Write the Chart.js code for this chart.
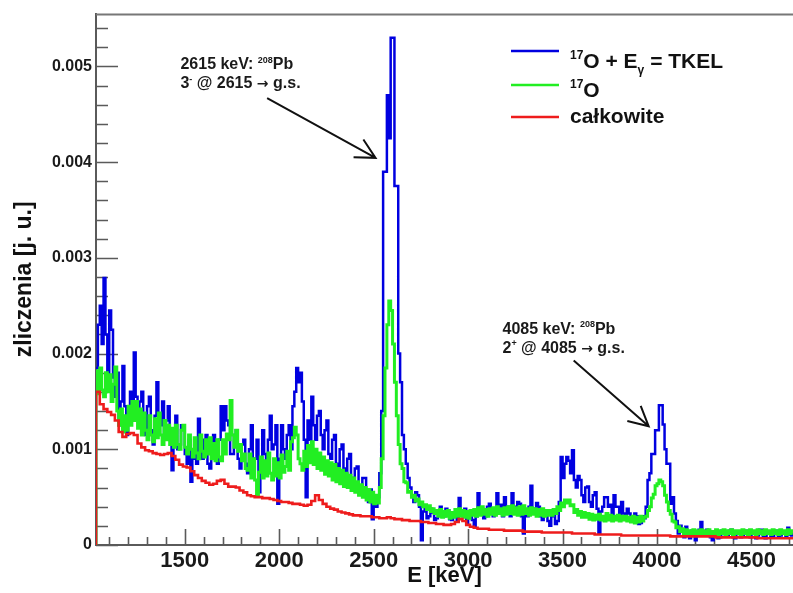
<!DOCTYPE html>
<html>
<head>
<meta charset="utf-8">
<script src="https://cdn.jsdelivr.net/npm/chart.js@4.4.0/dist/chart.umd.min.js"></script>
<style>
  html, body { margin: 0; padding: 0; background: #ffffff; }
  canvas { display: block; }
</style>
</head>
<body>
<canvas id="spectrum" width="793" height="593"></canvas>
<script>
// Histogram binning (keV)
const binStart = 1030;
const coarseBinWidth = 20;
const fineBinWidth = 10;

// 17O + E_gamma = TKEL, 10 keV bins starting at 1030 keV
const tkelCounts = [
  0.00185, 0.00230, 0.00250, 0.00210, 0.00279, 0.00220, 0.00180, 0.00245, 0.00225, 0.00175,
  0.00155, 0.00180, 0.00125, 0.00150, 0.00187, 0.00145, 0.00115, 0.00135, 0.00160, 0.00130,
  0.00201, 0.00155, 0.00130, 0.00150, 0.00160, 0.00125, 0.00115, 0.00145, 0.00155, 0.00120,
  0.00105, 0.00135, 0.00170, 0.00130, 0.00125, 0.00150, 0.00110, 0.00130, 0.00145, 0.00120,
  0.00078, 0.00110, 0.00135, 0.00100, 0.00105, 0.00125, 0.00125, 0.00095, 0.00085, 0.00110,
  0.00066, 0.00090, 0.00105, 0.00085, 0.00132, 0.00100, 0.00090, 0.00110, 0.00115, 0.00085,
  0.00080, 0.00105, 0.00115, 0.00090, 0.00085, 0.00110, 0.00145, 0.00120, 0.00145, 0.00130,
  0.00125, 0.00095, 0.00095, 0.00115, 0.00120, 0.00090, 0.00080, 0.00105, 0.00110, 0.00085,
  0.00075, 0.00100, 0.00125, 0.00090, 0.00090, 0.00110, 0.00055, 0.00085, 0.00120, 0.00095,
  0.00085, 0.00110, 0.00135, 0.00100, 0.00105, 0.00125, 0.00043, 0.00090, 0.00125, 0.00100,
  0.00090, 0.00115, 0.00125, 0.00100, 0.00145, 0.00160, 0.00185, 0.00170, 0.00180, 0.00150,
  0.00110, 0.00050, 0.00130, 0.00110, 0.00155, 0.00125, 0.00110, 0.00135, 0.00140, 0.00115,
  0.00100, 0.00120, 0.00130, 0.00095, 0.00090, 0.00110, 0.00115, 0.00085, 0.00078, 0.00100,
  0.00105, 0.00080, 0.00072, 0.00090, 0.00095, 0.00070, 0.00062, 0.00080, 0.00082, 0.00060,
  0.00055, 0.00070, 0.00070, 0.00050, 0.00045, 0.00058, 0.00027, 0.00042, 0.00040, 0.00050,
  0.00075, 0.00140, 0.00390, 0.00390, 0.00470, 0.00425, 0.00530, 0.00530, 0.00375, 0.00375,
  0.00200, 0.00170, 0.00115, 0.00100, 0.00085, 0.00070, 0.00060, 0.00052, 0.00045, 0.00055,
  0.00052, 0.00040, 0.00005, 0.00035, 0.00038, 0.00028, 0.00030, 0.00038, 0.00034, 0.00026,
  0.00028, 0.00036, 0.00040, 0.00030, 0.00030, 0.00038, 0.00036, 0.00027, 0.00026, 0.00034,
  0.00033, 0.00025, 0.00049, 0.00035, 0.00030, 0.00038, 0.00022, 0.00030, 0.00033, 0.00026,
  0.00019, 0.00030, 0.00054, 0.00036, 0.00038, 0.00028, 0.00030, 0.00040, 0.00043, 0.00033,
  0.00030, 0.00038, 0.00054, 0.00036, 0.00042, 0.00030, 0.00050, 0.00038, 0.00040, 0.00030,
  0.00054, 0.00040, 0.00035, 0.00045, 0.00043, 0.00030, 0.00012, 0.00033, 0.00030, 0.00040,
  0.00062, 0.00038, 0.00035, 0.00044, 0.00040, 0.00030, 0.00026, 0.00036, 0.00033, 0.00025,
  0.00020, 0.00030, 0.00030, 0.00022, 0.00025, 0.00045, 0.00092, 0.00070, 0.00085, 0.00092,
  0.00088, 0.00075, 0.00099, 0.00068, 0.00060, 0.00072, 0.00068, 0.00052, 0.00045, 0.00060,
  0.00061, 0.00045, 0.00040, 0.00052, 0.00055, 0.00038, 0.00012, 0.00035, 0.00040, 0.00050,
  0.00050, 0.00040, 0.00042, 0.00030, 0.00052, 0.00040, 0.00040, 0.00030, 0.00045, 0.00033,
  0.00030, 0.00038, 0.00033, 0.00025, 0.00025, 0.00033, 0.00030, 0.00022, 0.00023, 0.00030,
  0.00028, 0.00040, 0.00068, 0.00075, 0.00095, 0.00095, 0.00120, 0.00120, 0.00146, 0.00146,
  0.00126, 0.00100, 0.00085, 0.00085, 0.00043, 0.00050, 0.00033, 0.00025, 0.00012, 0.00020,
  0.00015, 0.00008, 0.00019, 0.00010, 0.00007, 0.00015, 0.00012, 0.00005, 0.00010, 0.00016,
  0.00024, 0.00012, 0.00010, 0.00016, 0.00015, 0.00008, 0.00005, 0.00012, 0.00013, 0.00007,
  0.00008, 0.00015, 0.00014, 0.00009, 0.00010, 0.00015, 0.00016, 0.00008, 0.00007, 0.00013,
  0.00013, 0.00008, 0.00009, 0.00015, 0.00015, 0.00010, 0.00008, 0.00014, 0.00012, 0.00007,
  0.00010, 0.00016, 0.00016, 0.00009, 0.00007, 0.00012, 0.00013, 0.00008, 0.00009, 0.00015,
  0.00015, 0.00009, 0.00010, 0.00014, 0.00012, 0.00008, 0.00018, 0.00011, 0.00010, 0.00014
];

// 17O, 10 keV bins starting at 1030 keV
const oxygenCounts = [
  0.00182, 0.00158, 0.00185, 0.00162, 0.00155, 0.00180, 0.00160, 0.00178, 0.00150, 0.00168,
  0.00186, 0.00140, 0.00125, 0.00142, 0.00118, 0.00135, 0.00120, 0.00145, 0.00125, 0.00150,
  0.00130, 0.00150, 0.00122, 0.00142, 0.00115, 0.00138, 0.00120, 0.00110, 0.00135, 0.00115,
  0.00108, 0.00132, 0.00112, 0.00138, 0.00115, 0.00105, 0.00130, 0.00110, 0.00125, 0.00105,
  0.00122, 0.00102, 0.00125, 0.00105, 0.00100, 0.00120, 0.00125, 0.00102, 0.00095, 0.00115,
  0.00100, 0.00092, 0.00112, 0.00096, 0.00090, 0.00115, 0.00098, 0.00092, 0.00110, 0.00095,
  0.00112, 0.00090, 0.00106, 0.00088, 0.00110, 0.00092, 0.00088, 0.00110, 0.00095, 0.00116,
  0.00110, 0.00151, 0.00115, 0.00102, 0.00120, 0.00098, 0.00105, 0.00088, 0.00095, 0.00080,
  0.00078, 0.00095, 0.00070, 0.00090, 0.00068, 0.00051, 0.00076, 0.00092, 0.00070, 0.00088,
  0.00072, 0.00096, 0.00075, 0.00068, 0.00090, 0.00072, 0.00086, 0.00070, 0.00094, 0.00076,
  0.00082, 0.00098, 0.00078, 0.00108, 0.00112, 0.00123, 0.00115, 0.00090, 0.00085, 0.00078,
  0.00098, 0.00082, 0.00104, 0.00086, 0.00108, 0.00084, 0.00100, 0.00080, 0.00096, 0.00078,
  0.00092, 0.00074, 0.00088, 0.00072, 0.00086, 0.00068, 0.00084, 0.00066, 0.00080, 0.00064,
  0.00078, 0.00061, 0.00075, 0.00060, 0.00073, 0.00057, 0.00070, 0.00055, 0.00066, 0.00052,
  0.00063, 0.00050, 0.00060, 0.00047, 0.00058, 0.00045, 0.00055, 0.00043, 0.00052, 0.00044,
  0.00060, 0.00090, 0.00135, 0.00185, 0.00230, 0.00255, 0.00245, 0.00210, 0.00170, 0.00135,
  0.00105, 0.00085, 0.00080, 0.00066, 0.00065, 0.00055, 0.00056, 0.00050, 0.00052, 0.00046,
  0.00048, 0.00042, 0.00045, 0.00040, 0.00042, 0.00037, 0.00041, 0.00035, 0.00038, 0.00033,
  0.00036, 0.00030, 0.00037, 0.00029, 0.00035, 0.00030, 0.00036, 0.00028, 0.00034, 0.00029,
  0.00037, 0.00030, 0.00038, 0.00030, 0.00036, 0.00029, 0.00035, 0.00028, 0.00036, 0.00031,
  0.00037, 0.00030, 0.00039, 0.00031, 0.00040, 0.00032, 0.00037, 0.00030, 0.00038, 0.00032,
  0.00039, 0.00031, 0.00040, 0.00033, 0.00038, 0.00031, 0.00039, 0.00032, 0.00040, 0.00033,
  0.00041, 0.00032, 0.00039, 0.00031, 0.00040, 0.00032, 0.00041, 0.00033, 0.00038, 0.00031,
  0.00039, 0.00032, 0.00038, 0.00030, 0.00037, 0.00031, 0.00038, 0.00030, 0.00036, 0.00031,
  0.00036, 0.00031, 0.00037, 0.00033, 0.00040, 0.00036, 0.00044, 0.00040, 0.00047, 0.00044,
  0.00047, 0.00041, 0.00042, 0.00034, 0.00037, 0.00031, 0.00035, 0.00029, 0.00034, 0.00029,
  0.00033, 0.00027, 0.00032, 0.00026, 0.00031, 0.00027, 0.00032, 0.00026, 0.00030, 0.00025,
  0.00033, 0.00026, 0.00031, 0.00025, 0.00030, 0.00026, 0.00031, 0.00025, 0.00030, 0.00026,
  0.00030, 0.00025, 0.00029, 0.00024, 0.00030, 0.00023, 0.00029, 0.00024, 0.00030, 0.00025,
  0.00029, 0.00030, 0.00036, 0.00040, 0.00049, 0.00053, 0.00062, 0.00064, 0.00068, 0.00066,
  0.00062, 0.00052, 0.00045, 0.00036, 0.00032, 0.00025, 0.00024, 0.00018, 0.00019, 0.00014,
  0.00017, 0.00012, 0.00016, 0.00011, 0.00015, 0.00012, 0.00016, 0.00011, 0.00015, 0.00012,
  0.00016, 0.00011, 0.00015, 0.00012, 0.00016, 0.00011, 0.00014, 0.00012, 0.00016, 0.00011,
  0.00015, 0.00012, 0.00016, 0.00010, 0.00015, 0.00012, 0.00016, 0.00011, 0.00015, 0.00012,
  0.00015, 0.00011, 0.00016, 0.00012, 0.00015, 0.00011, 0.00016, 0.00012, 0.00015, 0.00011,
  0.00016, 0.00012, 0.00015, 0.00011, 0.00016, 0.00012, 0.00015, 0.00011, 0.00016, 0.00012,
  0.00015, 0.00011, 0.00016, 0.00012, 0.00015, 0.00011, 0.00016, 0.00012, 0.00015, 0.00012
];

// total ("całkowite"), 20 keV bins starting at 1030 keV
const totalCounts = [
  0.00160, 0.00147, 0.00142, 0.00139, 0.00136, 0.00130, 0.00118, 0.00113, 0.00116, 0.00117,
  0.00115, 0.00106, 0.00102, 0.00099, 0.00098, 0.00096, 0.00095, 0.00094, 0.00095, 0.00096,
  0.00093, 0.00089, 0.00084, 0.00082, 0.00081, 0.00077, 0.00073, 0.00070, 0.00067, 0.00065,
  0.00063, 0.00064, 0.00067, 0.00068, 0.00064, 0.00061, 0.00061, 0.00060, 0.00057, 0.00055,
  0.00052, 0.00051, 0.00050, 0.00050, 0.00049, 0.00049, 0.00048, 0.00047, 0.00046, 0.00045,
  0.00045, 0.00044, 0.00043, 0.00043, 0.00042, 0.00041, 0.00042, 0.00046, 0.00052, 0.00047,
  0.00043, 0.00040, 0.00038, 0.00037, 0.00035, 0.00034, 0.00033, 0.00032, 0.00031, 0.00031,
  0.00030, 0.00030, 0.00030, 0.00029, 0.00029, 0.00028, 0.00028, 0.00029, 0.00028, 0.00027,
  0.00027, 0.00026, 0.00026, 0.00025, 0.00025, 0.00025, 0.00024, 0.00024, 0.00023, 0.00023,
  0.00022, 0.00022, 0.00021, 0.00021, 0.00022, 0.00024, 0.00027, 0.00025, 0.00021, 0.00019,
  0.00018, 0.00017, 0.00017, 0.00017, 0.00016, 0.00016, 0.00016, 0.00016, 0.00015, 0.00015,
  0.00015, 0.00015, 0.00015, 0.00014, 0.00014, 0.00014, 0.00014, 0.00014, 0.00013, 0.00013,
  0.00013, 0.00013, 0.00013, 0.00013, 0.00013, 0.00013, 0.00012, 0.00012, 0.00012, 0.00012,
  0.00012, 0.00012, 0.00011, 0.00011, 0.00011, 0.00011, 0.00011, 0.00011, 0.00011, 0.00010,
  0.00010, 0.00010, 0.00010, 0.00010, 0.00010, 0.00010, 0.00010, 0.00010, 0.00010, 0.00010,
  0.00010, 0.00010, 0.00009, 0.00009, 0.00009, 0.00009, 0.00009, 0.00009, 0.00009, 0.00009,
  0.00009, 0.00009, 0.00009, 0.00009, 0.00008, 0.00008, 0.00008, 0.00008, 0.00008, 0.00008,
  0.00008, 0.00008, 0.00008, 0.00008, 0.00008, 0.00007, 0.00007, 0.00007, 0.00007, 0.00007,
  0.00007, 0.00007, 0.00007, 0.00007, 0.00007
];

// Axes
const energyRange = [1030, 4720];
const countRange = [0, 0.005552];
const energyTicks = [1500, 2000, 2500, 3000, 3500, 4000, 4500];
const energyMinorStep = 100;
const countTicks = [0, 0.001, 0.002, 0.003, 0.004, 0.005];
const countMinorStep = 0.0002;

// Series labels (rich text: superscripts / subscripts)
const seriesColors = { tkel: '#0000e0', oxygen: '#22ee22', total: '#ee1c1c' };
const legendRows = [
  { color: seriesColors.tkel,   parts: [{ t: '17', sup: true }, { t: 'O + E' }, { t: 'γ', sub: true }, { t: ' = TKEL' }] },
  { color: seriesColors.oxygen, parts: [{ t: '17', sup: true }, { t: 'O' }] },
  { color: seriesColors.total,  parts: [{ t: 'całkowite' }] }
];

// Peak annotations, anchored in data coordinates (keV, counts)
const peakNotes = [
  {
    text: { x: 1477, y: 0.00497 },
    lines: [
      [{ t: '2615 keV: ' }, { t: '208', sup: true }, { t: 'Pb' }],
      [{ t: '3' }, { t: '-', sup: true }, { t: ' @ 2615 ' }, { t: '→', alt: true }, { t: ' g.s.' }]
    ],
    tail: { x: 1936, y: 0.00467 },
    tip: { x: 2510, y: 0.004045 }
  },
  {
    text: { x: 3182, y: 0.002208 },
    lines: [
      [{ t: '4085 keV: ' }, { t: '208', sup: true }, { t: 'Pb' }],
      [{ t: '2' }, { t: '+', sup: true }, { t: ' @ 4085 ' }, { t: '→', alt: true }, { t: ' g.s.' }]
    ],
    tail: { x: 3559, y: 0.001927 },
    tip: { x: 3956, y: 0.00124 }
  }
];

const FONT = '"Liberation Sans", Arial, Helvetica, sans-serif';
const SYMBOL_FONT = '"DejaVu Sans", sans-serif';

// Outline of a histogram: a corner point at both edges of every bin,
// starting from zero at the lower edge of the first bin.
function histogramOutline(values, start, width) {
  const pts = [{ x: start, y: 0 }];
  values.forEach((v, i) => {
    pts.push({ x: start + width * i, y: v });
    pts.push({ x: start + width * (i + 1), y: v });
  });
  return pts;
}

function drawRich(ctx, x, y, parts, size) {
  let cx = x;
  for (const p of parts) {
    const small = p.sup || p.sub;
    const s = small ? Math.round(size * 0.55) : (p.alt ? size - 2 : size);
    ctx.font = `bold ${s}px ${p.alt ? SYMBOL_FONT : FONT}`;
    const dy = p.sup ? -size * 0.42 : (p.sub ? size * 0.3 : 0);
    ctx.fillText(p.t, cx, y + dy);
    cx += ctx.measureText(p.t).width;
  }
}

// Inward tick marks (major + minor) and the upper frame line
const frameTicks = {
  id: 'frameTicks',
  beforeDatasetsDraw(chart) {
    const { ctx, chartArea: a, scales: { x, y } } = chart;
    ctx.save();
    ctx.strokeStyle = '#5a5a5a';
    ctx.lineWidth = 1.6;
    ctx.beginPath();
    const nY = Math.floor(countRange[1] / countMinorStep + 1e-6);
    for (let k = 0; k <= nY; k++) {
      const py = Math.round(y.getPixelForValue(k * countMinorStep)) + 0.5;
      const len = k % 5 === 0 ? 22 : 12;
      ctx.moveTo(a.left, py);
      ctx.lineTo(a.left + len, py);
    }
    const firstE = Math.ceil(energyRange[0] / energyMinorStep);
    const lastE = Math.floor(energyRange[1] / energyMinorStep);
    for (let k = firstE; k <= lastE; k++) {
      const e = k * energyMinorStep;
      const px = Math.round(x.getPixelForValue(e)) + 0.5;
      const len = e % 500 === 0 ? 16 : 8;
      ctx.moveTo(px, a.bottom);
      ctx.lineTo(px, a.bottom - len);
    }
    ctx.stroke();
    ctx.strokeStyle = '#777777';
    ctx.lineWidth = 2;
    ctx.beginPath();
    ctx.moveTo(a.left, a.top + 1);
    ctx.lineTo(a.right, a.top + 1);
    ctx.stroke();
    ctx.restore();
  }
};

// Legend box and peak annotations with arrows
const overlays = {
  id: 'overlays',
  afterDatasetsDraw(chart) {
    const { ctx, scales: { x, y } } = chart;
    ctx.save();
    ctx.textBaseline = 'alphabetic';
    ctx.textAlign = 'left';

    // legend
    const legendLineY = [51, 85, 117];
    const legendTextY = [68, 97, 123];
    legendRows.forEach((row, i) => {
      ctx.strokeStyle = row.color;
      ctx.lineWidth = 2.5;
      ctx.beginPath();
      ctx.moveTo(511, legendLineY[i]);
      ctx.lineTo(559, legendLineY[i]);
      ctx.stroke();
      ctx.fillStyle = '#111111';
      drawRich(ctx, 570, legendTextY[i], row.parts, 21);
    });

    // annotations
    peakNotes.forEach(note => {
      const tx = x.getPixelForValue(note.text.x);
      const ty = y.getPixelForValue(note.text.y);
      ctx.fillStyle = '#1a1a1a';
      note.lines.forEach((line, j) => drawRich(ctx, tx, ty + j * 19, line, 16));

      const x0 = x.getPixelForValue(note.tail.x), y0 = y.getPixelForValue(note.tail.y);
      const x1 = x.getPixelForValue(note.tip.x), y1 = y.getPixelForValue(note.tip.y);
      const ang = Math.atan2(y0 - y1, x0 - x1);
      const wing = 22, spread = 0.48;
      ctx.strokeStyle = '#111111';
      ctx.lineWidth = 2;
      ctx.beginPath();
      ctx.moveTo(x0, y0);
      ctx.lineTo(x1, y1);
      ctx.moveTo(x1 + wing * Math.cos(ang - spread), y1 + wing * Math.sin(ang - spread));
      ctx.lineTo(x1, y1);
      ctx.lineTo(x1 + wing * Math.cos(ang + spread), y1 + wing * Math.sin(ang + spread));
      ctx.stroke();
    });
    ctx.restore();
  }
};

const lineStyle = { pointRadius: 0, pointHoverRadius: 0, tension: 0, fill: false, borderJoinStyle: 'miter' };

new Chart(document.getElementById('spectrum'), {
  type: 'line',
  data: {
    datasets: [
      { ...lineStyle, label: 'całkowite', data: histogramOutline(totalCounts, binStart, coarseBinWidth),
        borderColor: seriesColors.total, borderWidth: 2.6 },
      { ...lineStyle, label: '17O', data: histogramOutline(oxygenCounts, binStart, fineBinWidth),
        borderColor: seriesColors.oxygen, borderWidth: 3 },
      { ...lineStyle, label: '17O + Eγ = TKEL', data: histogramOutline(tkelCounts, binStart, fineBinWidth),
        borderColor: seriesColors.tkel, borderWidth: 2.5 }
    ]
  },
  options: {
    responsive: false,
    devicePixelRatio: 1,
    animation: false,
    events: [],
    layout: { padding: { top: 12, right: 0, bottom: 0, left: 0 } },
    plugins: { legend: { display: false }, tooltip: { enabled: false }, title: { display: false } },
    scales: {
      x: {
        type: 'linear',
        min: energyRange[0],
        max: energyRange[1],
        afterBuildTicks: s => { s.ticks = energyTicks.map(v => ({ value: v })); },
        afterFit: s => { s.height = 48; },
        grid: { display: false, drawTicks: false },
        border: { display: true, color: '#5a5a5a', width: 2 },
        ticks: {
          autoSkip: false, maxRotation: 0, padding: 3, color: '#1a1a1a',
          font: { family: FONT, size: 22, weight: 'bold' },
          callback: v => String(v)
        },
        title: {
          display: true, text: 'E [keV]', color: '#111111',
          font: { family: FONT, size: 22, weight: 'bold' },
          padding: { top: 0, bottom: 4 }
        }
      },
      y: {
        type: 'linear',
        min: countRange[0],
        max: countRange[1],
        afterBuildTicks: s => { s.ticks = countTicks.map(v => ({ value: v })); },
        afterFit: s => { s.width = 96; },
        grid: { display: false, drawTicks: false },
        border: { display: true, color: '#5a5a5a', width: 2 },
        ticks: {
          padding: 4, color: '#1a1a1a',
          font: { family: FONT, size: 16, weight: 'bold' },
          callback: v => (v === 0 ? '0' : v.toFixed(3))
        },
        title: {
          display: true, text: 'zliczenia [j. u.]', color: '#111111',
          font: { family: FONT, size: 23, weight: 'bold' },
          padding: { top: 11, bottom: 0 }
        }
      }
    }
  },
  plugins: [frameTicks, overlays]
});
</script>
</body>
</html>
